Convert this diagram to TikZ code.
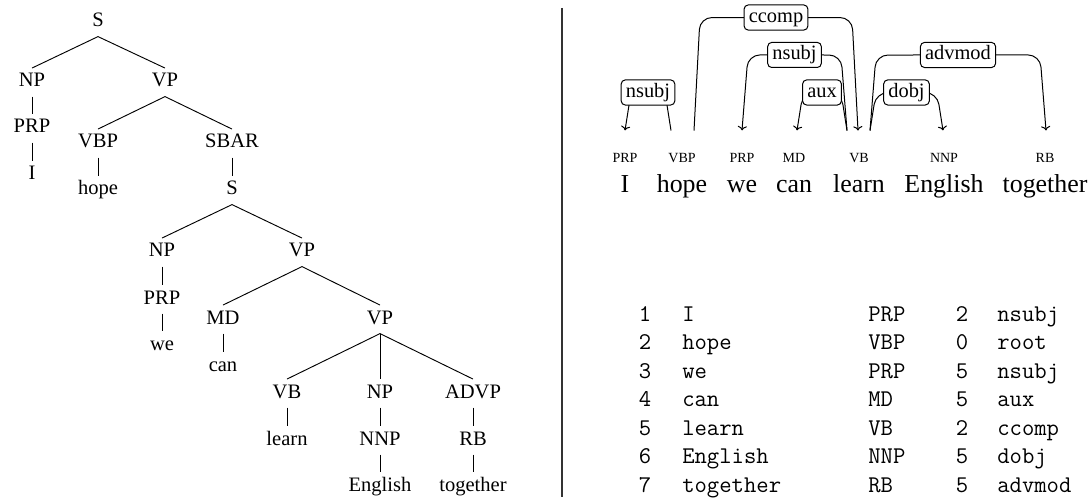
\documentclass[tikz,border=0pt]{standalone}
\usepackage{fontspec}
\setmainfont{Liberation Serif}
\usetikzlibrary{arrows.meta,calc}

\tikzset{
  tn/.style={anchor=base, inner xsep=1pt, inner ysep=4pt, text height=10pt, text depth=3pt,
    font=\fontsize{15.4}{18}\selectfont},
  tedge/.style={line width=0.7pt},
  word/.style={anchor=base, inner sep=0pt, font=\fontsize{19.4}{22}\selectfont},
  tag/.style={anchor=base, inner sep=0pt, font=\fontsize{10.5}{12}\selectfont},
  deparc/.style={line width=0.75pt, rounded corners=9pt, arrows={-Stealth[length=7pt,width=6pt]}},
  deplabel/.style={draw, fill=white, rounded corners=3pt, line width=0.75pt,
    inner xsep=3.5pt, inner ysep=2.5pt, text height=10.5pt, text depth=3.3pt,
    font=\fontsize{15.3}{18}\selectfont},
  cell/.style={anchor=base, inner sep=0pt, font=\fontsize{18}{20}\ttfamily},
  lcell/.style={cell, anchor=base west}
}

\begin{document}
\begin{tikzpicture}[x=0.75pt, y=-0.75pt]
\useasboundingbox (0,0) rectangle (1091,502);

% constituency tree
\node[tn] (S0) at (98,27) {S};
\node[tn] (NP1) at (32,87) {NP};
\node[tn] (VP1) at (165,87) {VP};
\node[tn] (PRP1) at (32,133) {PRP};
\node[tn] (wI) at (32,180) {I};
\node[tn] (VBP) at (98,148) {VBP};
\node[tn] (SBAR) at (232,148) {SBAR};
\node[tn] (wHope) at (98,195) {hope};
\node[tn] (S1) at (232,195) {S};
\node[tn] (NP2) at (162,257) {NP};
\node[tn] (VP2) at (302,257) {VP};
\node[tn] (PRP2) at (162,304) {PRP};
\node[tn] (wWe) at (162,350) {we};
\node[tn] (MD) at (223,324) {MD};
\node[tn] (wCan) at (223,371) {can};
\node[tn] (VP3) at (380,324) {VP};
\node[tn] (VB) at (287,398) {VB};
\node[tn] (NP3) at (380,398) {NP};
\node[tn] (ADVP) at (473,398) {ADVP};
\node[tn] (wLearn) at (287,445) {learn};
\node[tn] (NNP) at (380,445) {NNP};
\node[tn] (RB) at (473,445) {RB};
\node[tn] (wEnglish) at (380,491) {English};
\node[tn] (wTogether) at (473,491) {together};
\foreach \a/\b in {S0/NP1, S0/VP1, NP1/PRP1, PRP1/wI, VP1/VBP, VP1/SBAR, VBP/wHope,
  SBAR/S1, S1/NP2, S1/VP2, NP2/PRP2, PRP2/wWe, VP2/MD, VP2/VP3, MD/wCan,
  VP3/VB, VP3/NP3, VP3/ADVP, VB/wLearn, NP3/NNP, ADVP/RB, NNP/wEnglish, RB/wTogether}
  \draw[tedge] (\a.south) -- (\b.north);

% separator
\draw[line width=0.9pt, black!80] (562,8) -- (562,497);

% dependency graph
\node[tag] (tI) at (625,163) {PRP};
\node[tag] (tHope) at (682,163) {VBP};
\node[tag] (tWe) at (742,163) {PRP};
\node[tag] (tCan) at (794,163) {MD};
\node[tag] (tLearn) at (859,163) {VB};
\node[tag] (tEnglish) at (944,163) {NNP};
\node[tag] (tTogether) at (1045,163) {RB};
\node[word] (dI) at (625,193) {I};
\node[word] (dHope) at (682,193) {hope};
\node[word] (dWe) at (742,193) {we};
\node[word] (dCan) at (794,193) {can};
\node[word] (dLearn) at (859,193) {learn};
\node[word] (dEnglish) at (944,193) {English};
\node[word] (dTogether) at (1045,193) {together};

\coordinate (Iin) at ($(tI)+(0,-28)$);
\coordinate (hopeL) at ($(tHope)+(-11,-28)$);
\coordinate (hopeR) at ($(tHope)+(12,-28)$);
\coordinate (weIn) at ($(tWe)+(0,-28)$);
\coordinate (canIn) at ($(tCan)+(3,-28)$);
\coordinate (learnL) at ($(tLearn)+(-12,-28)$);
\coordinate (learnM) at ($(tLearn)+(-1,-28)$);
\coordinate (learnR) at ($(tLearn)+(11,-28)$);
\coordinate (engIn) at ($(tEnglish)+(-1,-28)$);
\coordinate (togIn) at ($(tTogether)+(1,-28)$);

\draw[deparc, <-] (Iin) -- ++(6,-38) -- node[deplabel] (lNsubjA) {nsubj} ($(hopeL)+(-6,-38)$) -- (hopeL);
\draw[deparc, ->] (hopeR) -- ++(6,-113) -- node[deplabel] (lCcomp) {ccomp} ($(learnM)+(-6,-113)$) -- (learnM);
\draw[deparc, <-] (weIn) -- ++(6,-75.5) -- node[deplabel] (lNsubjB) {nsubj} ($(learnL)+(-6,-75.5)$) -- (learnL);
\draw[deparc, <-] (canIn) -- ++(6,-38) -- node[deplabel] (lAux) {aux} ($(learnL)+(-6,-38)$) -- (learnL);
\draw[deparc, ->] (learnR) -- ++(6,-38) -- node[deplabel] (lDobj) {dobj} ($(engIn)+(-6,-38)$) -- (engIn);
\draw[deparc, ->] (learnR) -- ++(6,-75.5) -- node[deplabel] (lAdvmod) {advmod} ($(togIn)+(-6,-75.5)$) -- (togIn);

% conll table
\foreach \w/\t/\h/\r [count=\i] in {I/PRP/2/nsubj, hope/VBP/0/root, we/PRP/5/nsubj,
  can/MD/5/aux, learn/VB/2/ccomp, English/NNP/5/dobj, together/RB/5/advmod} {
  \node[cell] (row\i-id) at (645,{321+28.5*(\i-1)}) {\i};
  \node[lcell] (row\i-w) at (682,{321+28.5*(\i-1)}) {\w};
  \node[lcell] (row\i-t) at (868,{321+28.5*(\i-1)}) {\t};
  \node[cell] (row\i-h) at (962,{321+28.5*(\i-1)}) {\h};
  \node[lcell] (row\i-r) at (997,{321+28.5*(\i-1)}) {\r};
}
\end{tikzpicture}
\end{document}
